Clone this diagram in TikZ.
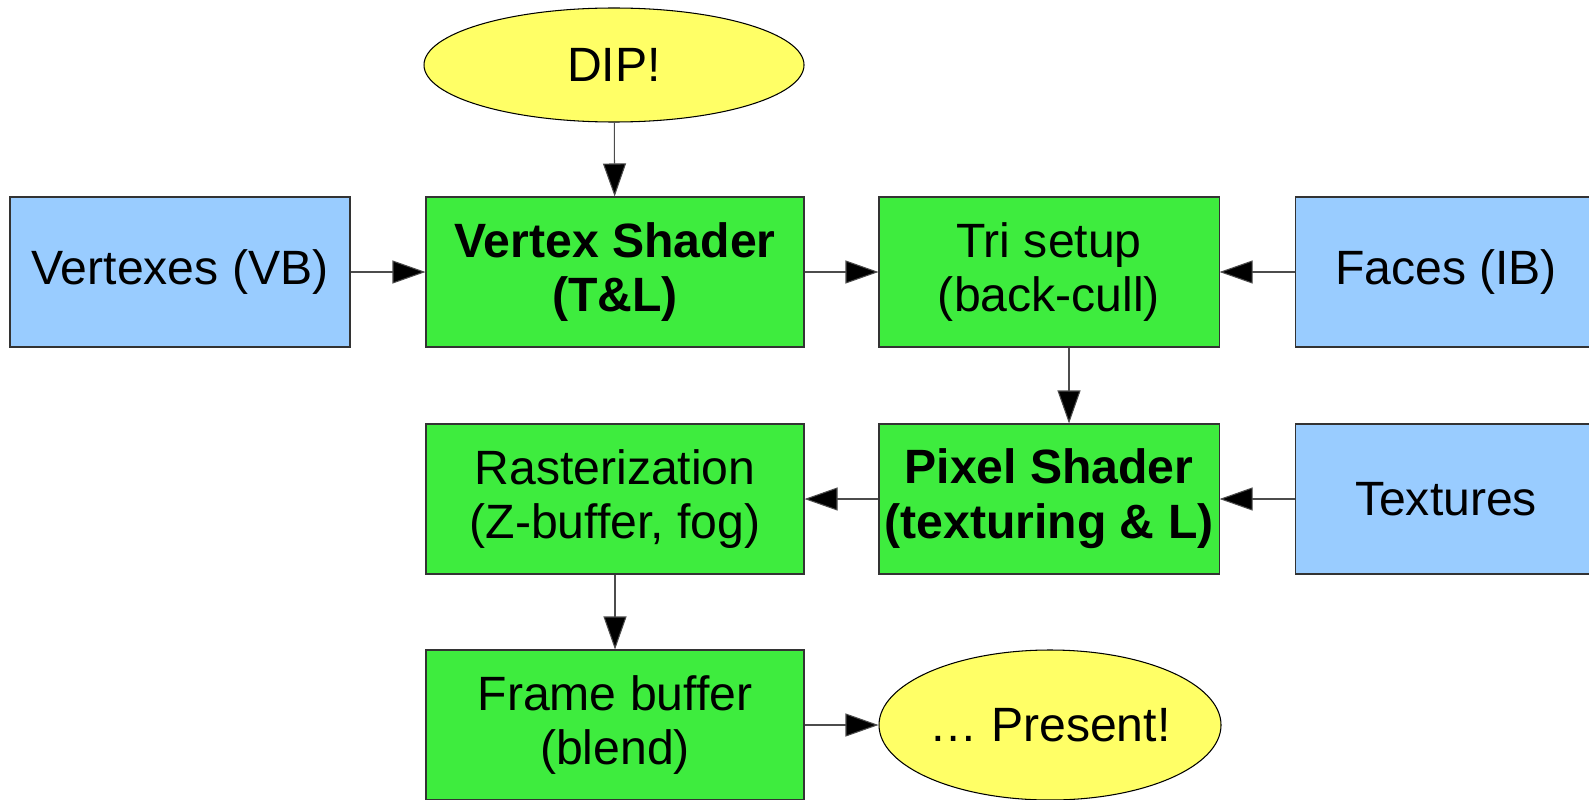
\documentclass[tikz,border=0pt]{standalone}
\usepackage{fontspec}
\setmainfont{Liberation Sans}
\usetikzlibrary{arrows.meta,shapes.geometric}

\definecolor{stagegreen}{RGB}{62,236,62}
\definecolor{bufblue}{RGB}{153,204,255}
\definecolor{eventyellow}{RGB}{255,255,102}

\begin{document}
\begin{tikzpicture}[
		box/.style={draw=black!80, line width=0.3pt, inner sep=0pt, align=center,
			minimum height=1.5cm, font=\fontsize{13.7}{15.6}\selectfont},
		stage/.style={box, fill=stagegreen, minimum width=3.78cm},
		slim/.style={stage, minimum width=3.4cm},
		buffer/.style={box, fill=bufblue, minimum width=3.4cm},
		outer/.style={box, fill=bufblue, minimum width=3.02cm},
		event/.style={box, ellipse, fill=eventyellow, draw=black},
		link/.style={draw=black!70, line width=0.3pt, -{Triangle[length=0.33cm,width=0.23cm,fill=black]}}
	]
			\clip (0,0) rectangle (15.89,7.99);
			% top event
			\node[event, minimum width=3.8cm, minimum height=1.14cm] (dip) at (6.14,7.34) {DIP!};
			% first row
			\node[buffer] (vb)  at (1.80,5.27) {Vertexes (VB)};
			\node[stage]  (vs)  at (6.15,5.27) {\textbf{Vertex Shader}\\\textbf{(T\&L)}};
			\node[slim]   (tri) at (10.49,5.27) {Tri setup\\(back-cull)};
			\node[outer]  (ib)  at (14.46,5.27) {Faces (IB)};
			% second row
			\node[stage]  (ras) at (6.15,3.00) {Rasterization\\(Z-buffer, fog)};
			\node[slim]   (ps)  at (10.49,3.00) {\textbf{Pixel Shader}\\\textbf{(texturing \& L)}};
			\node[outer]  (tex) at (14.46,3.00) {Textures};
			% third row
			\node[stage]  (fb)  at (6.15,0.74) {Frame buffer\\(blend)};
			\node[event, minimum width=3.42cm, minimum height=1.5cm] (pres) at (10.50,0.74) {… Present!};
			% connectors
			\draw[link] (dip) -- (vs);
			\draw[link] (vb) -- (vs);
			\draw[link] (vs) -- (tri);
			\draw[link] (ib) -- (tri);
			\draw[link] ([xshift=0.2cm]tri.south) -- ([xshift=0.2cm]ps.north);
			\draw[link] (tex) -- (ps);
			\draw[link] (ps) -- (ras);
			\draw[link] (ras) -- (fb);
			\draw[link] (fb) -- (pres);
		\end{tikzpicture}
\end{document}
